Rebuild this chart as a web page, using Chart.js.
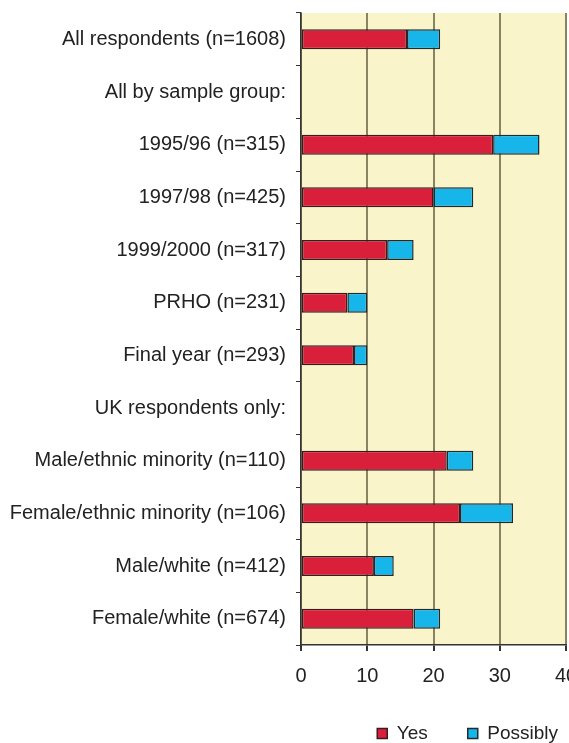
<!DOCTYPE html>
<html>
<head>
<meta charset="utf-8">
<script src="https://cdn.jsdelivr.net/npm/chart.js@4.4.0/dist/chart.umd.min.js"></script>
<style>
  html, body { margin: 0; padding: 0; background: #fff; overflow: hidden; }
  #wrap { position: relative; width: 598px; height: 743px; }
</style>
</head>
<body>
<div id="wrap"><canvas id="chart"></canvas></div>
<script>
const categories = [
    "All respondents (n=1608)",
    "All by sample group:",
    "1995/96 (n=315)",
    "1997/98 (n=425)",
    "1999/2000 (n=317)",
    "PRHO (n=231)",
    "Final year (n=293)",
    "UK respondents only:",
    "Male/ethnic minority (n=110)",
    "Female/ethnic minority (n=106)",
    "Male/white (n=412)",
    "Female/white (n=674)",
];
const yesValues = [16, null, 29, 20, 13, 7, 8, null, 22, 24, 11, 17];
const possiblyValues = [5, null, 7, 6, 4, 3, 2, null, 4, 8, 3, 4];
const xTicks = [0, 10, 20, 30, 40];

// pale yellow fill behind the bars
const plotBackground = {
    id: "plotBackground",
    beforeDraw(chart) {
        const { ctx, chartArea: a } = chart;
        ctx.save();
        ctx.fillStyle = "#f9f4c9";
        ctx.fillRect(a.left, a.top, a.right - a.left, a.bottom - a.top);
        ctx.restore();
    },
};

new Chart(document.getElementById("chart"), {
    type: "bar",
    data: {
        labels: categories,
        datasets: [
            {
                label: "Yes",
                data: yesValues,
                backgroundColor: "#da1f3b",
                borderColor: "#3a1b22",
                borderWidth: 1.5,
                borderSkipped: false,
                barPercentage: 0.38,
                categoryPercentage: 1,
            },
            {
                label: "Possibly",
                data: possiblyValues,
                backgroundColor: "#17b6ea",
                borderColor: "#1f2a33",
                borderWidth: 1.5,
                borderSkipped: false,
                barPercentage: 0.38,
                categoryPercentage: 1,
            },
        ],
    },
    options: {
        indexAxis: "y",
        responsive: true,
        maintainAspectRatio: false,
        animation: false,
        layout: { padding: { top: 13, bottom: -10 } },
        plugins: {
            tooltip: { enabled: false },
            legend: {
                position: "bottom",
                align: "end",
                labels: {
                    usePointStyle: true,
                    pointStyle: "rect",
                    boxWidth: 10,
                    boxHeight: 10,
                    padding: 40,
                    color: "#222",
                    font: { family: "Liberation Sans", size: 19 },
                },
            },
        },
        scales: {
            x: {
                stacked: true,
                min: 0,
                max: 40,
                afterBuildTicks: (s) => { s.ticks = xTicks.map((v) => ({ value: v })); },
                afterFit: (s) => { s.paddingRight = 32; s.height = 39; },
                ticks: {
                    color: "#222",
                    padding: 15,
                    font: { family: "Liberation Sans", size: 20, lineHeight: 1 },
                },
                grid: { color: "#8a8360", lineWidth: 2, tickLength: 6, tickColor: "#333" },
                border: { color: "#333", width: 1.5 },
            },
            y: {
                stacked: true,
                afterFit: (s) => { s.width = 301; s.paddingTop = 0; s.paddingBottom = 0; },
                ticks: {
                    color: "#222",
                    padding: 10,
                    font: { family: "Liberation Sans", size: 20 },
                },
                grid: { drawOnChartArea: false, tickLength: 5, tickColor: "#333", offset: true },
                border: { color: "#333", width: 1.5 },
            },
        },
    },
    plugins: [plotBackground],
});
</script>
</body>
</html>
